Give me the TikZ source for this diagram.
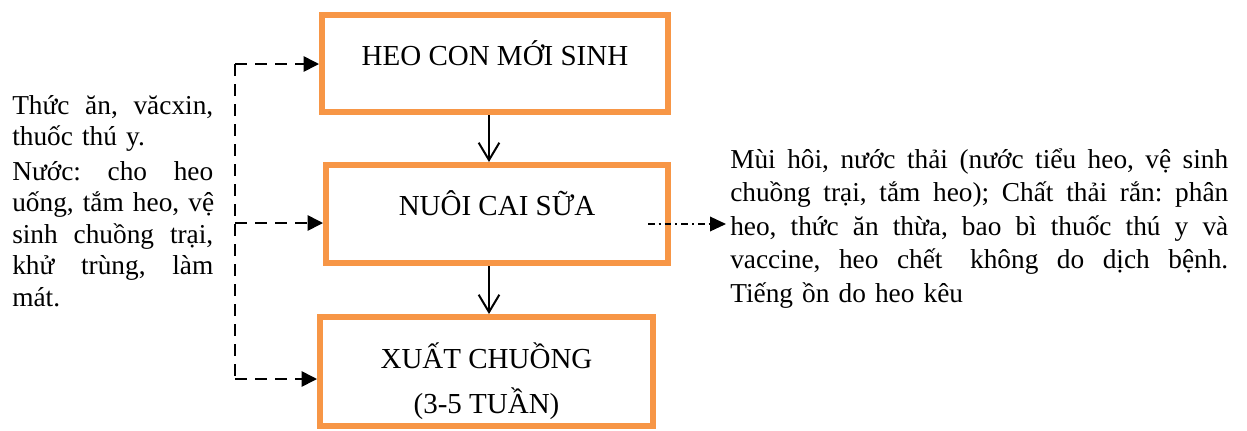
\documentclass[tikz,border=0pt]{standalone}
\usepackage{fontspec}
\setmainfont{Liberation Serif}
\usetikzlibrary{arrows.meta}
\definecolor{stageorange}{RGB}{247,150,70}
% a justified line: the word gaps are spread with \hfill to fill the given width
\newcommand{\fillline}[2]{\leavevmode\hbox to #1{#2}}
\begin{document}
\begin{tikzpicture}[x=0.75pt,y=-0.75pt,
  stage/.style={draw=stageorange, line width=4.5pt, inner sep=0pt},
  stagetext/.style={font=\fontsize{21.75pt}{33.75pt}\selectfont, align=center, inner sep=0pt, anchor=base},
  flow/.style={draw=black, line width=1.5pt, -{Straight Barb[length=13pt,width=15.5pt]}},
  feed/.style={line width=1.2pt, dash pattern=on 9pt off 6pt},
  feedarrow/.style={feed, -{Triangle[length=11.5pt,width=11.5pt]}},
  waste/.style={line width=1pt, dash pattern=on 5pt off 3pt on 1.5pt off 3pt, -{Triangle[length=12pt,width=11pt]}},
  note/.style={inner sep=0pt, anchor=base west}]
\useasboundingbox (0,0) rectangle (1247,430);

% production stages
\node[stage, minimum width=259.5pt, minimum height=72.75pt] (hn) at (495,63.5) {};
\node[stage, minimum width=256.5pt, minimum height=73.5pt] (nc) at (497,214) {};
\node[stage, minimum width=249.75pt, minimum height=81.75pt] (xc) at (486.5,371.5) {};

\node[stagetext] (hnt) at (495,65) {HEO CON MỚI SINH};
\node[stagetext] (nct) at (497,215) {NUÔI CAI SỮA};
\node[stagetext] (xct) at (486.5,413) {XUẤT CHUỒNG\\(3-5 TUẦN)};

% flow between stages
\draw[flow] ([xshift=-4.5pt]hn.south) -- ([xshift=-4.5pt]hn.south |- nc.north);
\draw[flow] ([xshift=-6pt]nc.south) -- ([xshift=-6pt]nc.south |- xc.north);

% inputs
\node[note, text width=150.75pt, font=\fontsize{20.5pt}{23.625pt}\selectfont\frenchspacing] (inp) at (12,114) {%
\fillline{150.75pt}{Thức \hfill ăn, \hfill văcxin,}\\
thuốc thú y.\\[2.25pt]
\fillline{150.75pt}{Nước: \hfill cho \hfill heo}\\
\fillline{150.75pt}{uống, \hfill tắm \hfill heo, \hfill vệ}\\
\fillline{150.75pt}{sinh \hfill chuồng \hfill trại,}\\
\fillline{150.75pt}{khử \hfill trùng, \hfill làm}\\
mát.};

\coordinate (j1) at (235,64);
\coordinate (j2) at (235,223);
\coordinate (j3) at (235,379);
\draw[feed] (j1) -- (j3);
\draw[feedarrow] (j1) -- (j1 -| hn.west);
\draw[feedarrow] (j2) -- (j2 -| nc.west);
\draw[feedarrow] (j3) -- (j3 -| xc.west);

% wastes
\node[note, text width=373.5pt, font=\fontsize{20.5pt}{25.125pt}\selectfont\frenchspacing] (out) at (730,168) {%
\fillline{373.5pt}{Mùi \hfill hôi, \hfill nước \hfill thải \hfill (nước \hfill tiểu \hfill heo, \hfill vệ \hfill sinh}\\
\fillline{373.5pt}{chuồng \hfill trại, \hfill tắm \hfill heo); \hfill Chất \hfill thải \hfill rắn: \hfill phân}\\
\fillline{373.5pt}{heo, \hfill thức \hfill ăn \hfill thừa, \hfill bao \hfill bì \hfill thuốc \hfill thú \hfill y \hfill và}\\
\fillline{373.5pt}{vaccine, \hfill heo \hfill chết \ \hfill không \hfill do \hfill dịch \hfill bệnh.}\\
Tiếng ồn do heo kêu};

\coordinate (ws) at (648,224);
\draw[waste, shorten >=3pt] (ws) -- (ws -| out.west);
\end{tikzpicture}
\end{document}
